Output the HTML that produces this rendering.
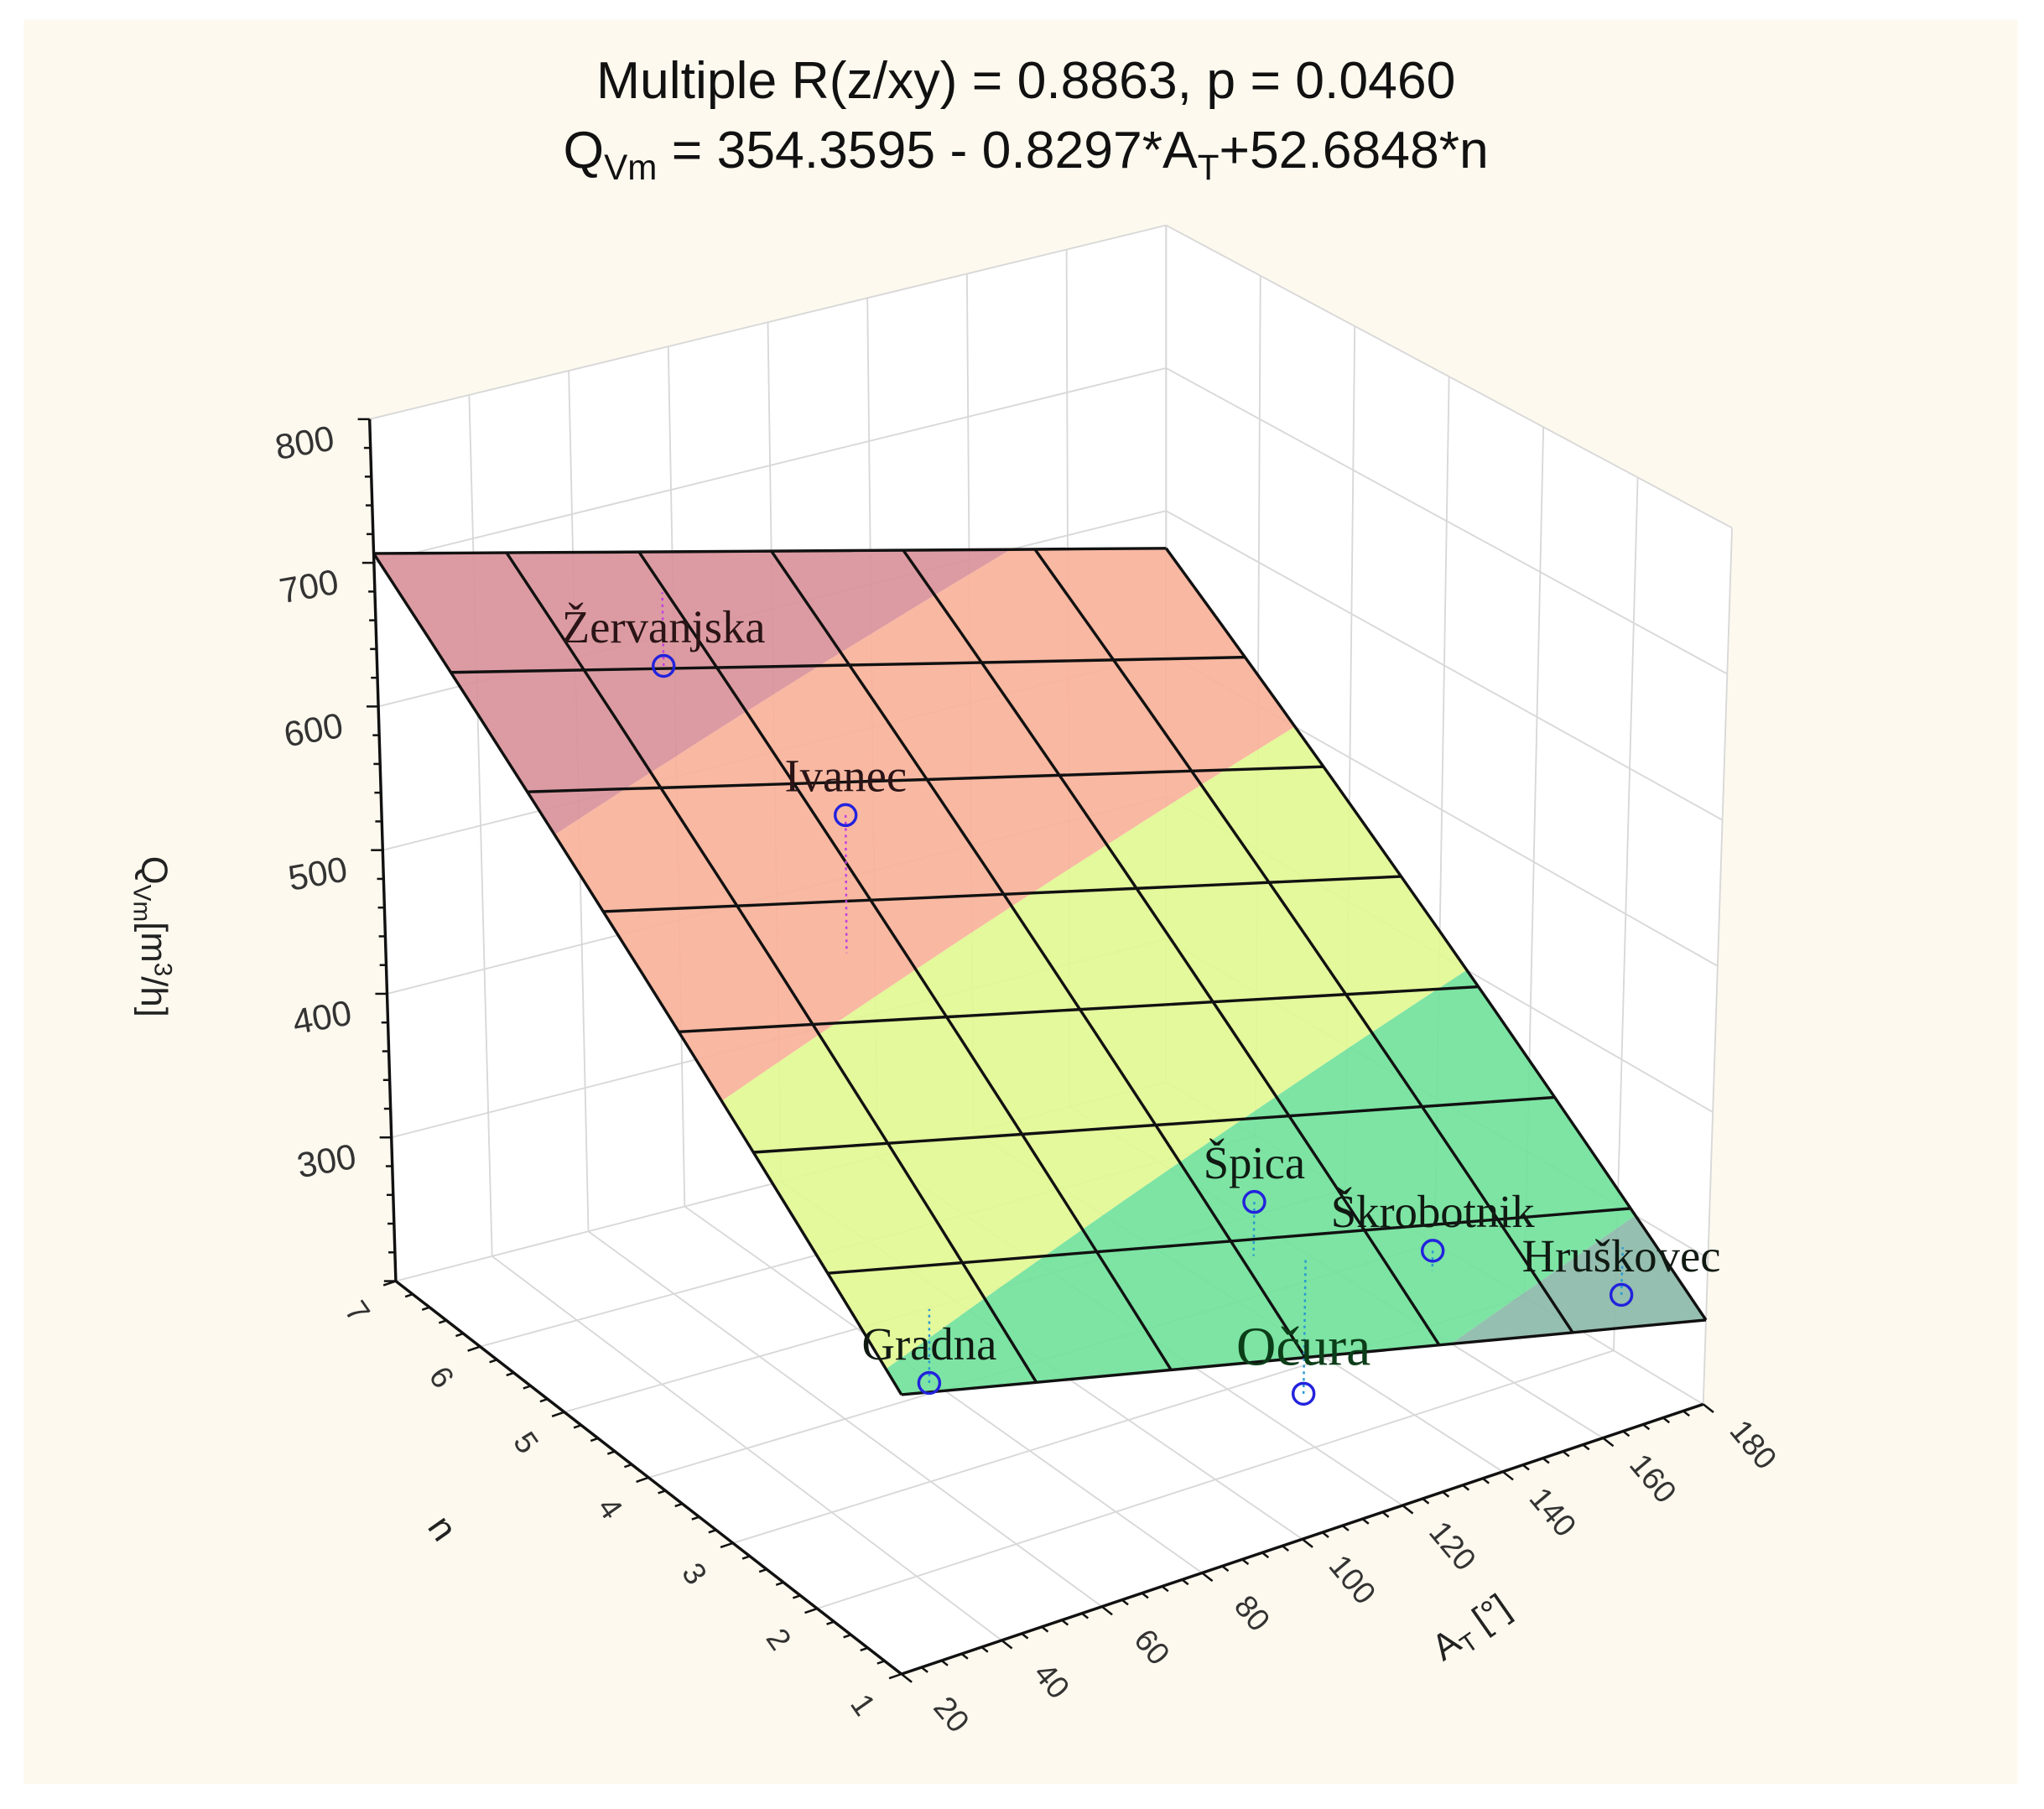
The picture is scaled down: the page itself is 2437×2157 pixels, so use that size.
<!DOCTYPE html>
<html><head><meta charset="utf-8"><style>
html,body{margin:0;padding:0;background:#fff;}
svg{display:block;}
text{font-family:"Liberation Sans",sans-serif;}
text.serif{font-family:"Liberation Serif",serif;}
</style></head><body>
<svg id="chart" width="2437" height="2157" viewBox="0 0 1560 1381" xmlns="http://www.w3.org/2000/svg">
<rect x="18" y="15" width="1522" height="1347" fill="#fdf9ee"/>
<text x="783" y="75" font-size="40" text-anchor="middle" fill="#111">Multiple R(z/xy) = 0.8863, p = 0.0460</text>
<text x="783" y="128" font-size="40" text-anchor="middle" fill="#111">Q<tspan font-size="27" dy="9">Vm</tspan><tspan dy="-9"> = 354.3595 - 0.8297*A</tspan><tspan font-size="27" dy="9">T</tspan><tspan dy="-9">+52.6848*n</tspan></text>
<g id="walls"></g>
<g id="grid"></g>
<g id="axes"></g>
<g id="surface"></g>
<g id="points"></g>
<g id="labelsAbove"></g>
<text transform="translate(108,715) rotate(90)" font-size="28" text-anchor="middle" fill="#222">Q<tspan font-size="19" dy="6">Vm</tspan><tspan dy="-6">[m</tspan><tspan font-size="19" dy="-10">3</tspan><tspan dy="10">/h]</tspan></text>
<text transform="translate(330,1172) rotate(55)" font-size="28" text-anchor="middle" fill="#222">n</text>
<text transform="translate(1128,1250) rotate(-35)" font-size="28" text-anchor="middle" fill="#222">A<tspan font-size="19" dy="6">T</tspan><tspan dy="-6"> [°]</tspan></text>
</svg>
<script>
const aTicks=[20,40,60,80,100,120,140,160,180];
const nTicks=[1,2,3,4,5,6,7];
const qTicks=[300,400,500,600,700,800];
const pointNames=["Žervanjska","Ivanec","Špica","Očura","Škrobotnik","Hruškovec","Gradna"];
const pointA=[72.5,62,102.5,112,134.5,173.5,35];
const pointN=[6.7,4.06,1.74,1.69,1.53,1.58,1.56];
const pointQ=[596,612,398,258,337,261,357];
const bandLimits=[0,300,400,500,600,2000];
const bandColors=["#8cbaa9","#72e29c","#e2f794","#f9b29a","#d9929a"];
const coef=[354.3595,-0.8297,52.6848];
const A0=20,A1=180,N0=1,N1=7,Q0=200,Q1=800;
const F00=[688,1278],F10=[1300,1072],F01=[302,978],F11=[890,826];
const T00=[688,606],T10=[1322,403],T01=[282,320],T11=[890,172];
function lerp(p,q,t){return [p[0]+(q[0]-p[0])*t,p[1]+(q[1]-p[1])*t];}
function proj(a,n,q){
  const u=(a-A0)/(A1-A0),v=(n-N0)/(N1-N0),w=(q-Q0)/(Q1-Q0);
  const f=lerp(lerp(F00,F10,u),lerp(F01,F11,u),v);
  const t=lerp(lerp(T00,T10,u),lerp(T01,T11,u),v);
  return lerp(f,t,w);
}
function surfQ(a,n){return coef[0]+coef[1]*a+coef[2]*n;}
const NS="http://www.w3.org/2000/svg";
function mk(tag,parent,attrs){const e=document.createElementNS(NS,tag);for(const k in attrs)e.setAttribute(k,attrs[k]);document.getElementById(parent).appendChild(e);return e;}
function line3(parent,p,q,stroke,sw,name){
  const a=proj(...p),b=proj(...q);
  const e=mk('line',parent,{x1:a[0],y1:a[1],x2:b[0],y2:b[1],stroke:stroke,'stroke-width':sw});
  
  
  return e;
}
function polyPts(pts){return pts.map(p=>p[0].toFixed(1)+','+p[1].toFixed(1)).join(' ');}
const lw=mk('polygon','walls',{points:polyPts([proj(A0,N1,Q0),proj(A1,N1,Q0),proj(A1,N1,Q1),proj(A0,N1,Q1)]),fill:'#fff'});


const rw=mk('polygon','walls',{points:polyPts([proj(A1,N1,Q0),proj(A1,N0,Q0),proj(A1,N0,Q1),proj(A1,N1,Q1)]),fill:'#fff'});


const fl=mk('polygon','walls',{points:polyPts([proj(A0,N0,Q0),proj(A1,N0,Q0),proj(A1,N1,Q0),proj(A0,N1,Q0)]),fill:'#fff'});


const G='#d8d8d8';
aTicks.forEach(a=>{
  line3('grid',[a,N1,Q0],[a,N1,Q1],G,1.2,'wall-grid-a');
  line3('grid',[a,N0,Q0],[a,N1,Q0],G,1.2,'floor-grid-a');
});
nTicks.forEach(n=>{
  line3('grid',[A1,n,Q0],[A1,n,Q1],G,1.2,'wall-grid-n');
  line3('grid',[A0,n,Q0],[A1,n,Q0],G,1.2,'floor-grid-n');
});
qTicks.forEach(q=>{
  line3('grid',[A0,N1,q],[A1,N1,q],G,1.2,'wall-grid-q');
  line3('grid',[A1,N1,q],[A1,N0,q],G,1.2,'wall-grid-q');
});
line3('axes',[A0,N1,Q0],[A0,N1,Q1],'#111',2.2,'y-axis-line');
line3('axes',[A0,N1,Q0],[A0,N0,Q0],'#111',2.2,'n-axis-line');
line3('axes',[A0,N0,Q0],[A1,N0,Q0],'#111',2.2,'x-axis-line');
function tick(p,dir,len,name){
  const e=mk('line','axes',{x1:p[0],y1:p[1],x2:p[0]+dir[0]*len,y2:p[1]+dir[1]*len,stroke:'#111','stroke-width':1.6});
  
  
}
function unit(v){const l=Math.hypot(v[0],v[1]);return [v[0]/l,v[1]/l];}
for(let q=Q0;q<=Q1;q+=20){const major=q%100===0;tick(proj(A0,N1,q),[-1,0],major?9:5,'y-axis-tick');}
const nDir=unit([-76,26]);
for(let i=0;i<=30;i++){const n=N0+i*0.2;tick(proj(A0,n,Q0),nDir,i%5===0?10:6,'n-axis-tick');}
const aDir=unit([64,50]);
for(let a=A0;a<=A1;a+=4){tick(proj(a,N0,Q0),aDir,(a-A0)%20===0?10:6,'x-axis-tick');}
function txt(parent,x,y,s,size,rot,name,fill,cls){
  const e=mk('text',parent,{transform:`translate(${x.toFixed(1)},${y.toFixed(1)}) rotate(${rot})`,'font-size':size,'text-anchor':'middle',fill:fill||'#333'});
  if(cls)e.setAttribute('class',cls);
  e.textContent=s;
  
  
  return e;
}
qTicks.forEach(q=>{const p=proj(A0,N1,q);txt('axes',p[0]-48,p[1]+27,String(q),27,-10,'y-tick-label');});
nTicks.forEach(n=>{const p=proj(A0,n,Q0);txt('axes',p[0]-36,p[1]+28,String(n),24,55,'n-tick-label');});
aTicks.forEach(a=>{const p=proj(a,N0,Q0);txt('axes',p[0]+32,p[1]+36,String(a),24,50,'x-tick-label');});
function clip(poly,fn){
  const out=[];
  for(let i=0;i<poly.length;i++){
    const a=poly[i],b=poly[(i+1)%poly.length],fa=fn(a),fb=fn(b);
    if(fa>=0)out.push(a);
    if((fa>=0)!==(fb>=0)){const t=fa/(fa-fb);out.push([a[0]+(b[0]-a[0])*t,a[1]+(b[1]-a[1])*t]);}
  }
  return out;
}
function projPoly(poly){
  const pts=[];
  for(let i=0;i<poly.length;i++){
    const a=poly[i],b=poly[(i+1)%poly.length];
    for(let k=0;k<12;k++){const t=k/12;const A=a[0]+(b[0]-a[0])*t,N=a[1]+(b[1]-a[1])*t;pts.push(proj(A,N,surfQ(A,N)));}
  }
  return pts;
}
const rect=[[A0,N0],[A1,N0],[A1,N1],[A0,N1]];
bandColors.forEach((c,i)=>{
  let p=clip(rect,x=>surfQ(x[0],x[1])-bandLimits[i]);
  p=clip(p,x=>bandLimits[i+1]-surfQ(x[0],x[1]));
  if(p.length<3)return;
  const e=mk('polygon','surface',{points:polyPts(projPoly(p)),fill:c,'fill-opacity':0.92});
  
  
});
function sline(a1,n1,a2,n2,sw,name){
  const pts=[];for(let k=0;k<=10;k++){const t=k/10;const A=a1+(a2-a1)*t,N=n1+(n2-n1)*t;pts.push(proj(A,N,surfQ(A,N)));}
  const e=mk('polyline','surface',{points:polyPts(pts),fill:'none',stroke:'#111','stroke-width':sw});
  
  
}
for(let i=0;i<=6;i++){const a=A0+(A1-A0)*i/6;sline(a,N0,a,N1,2.2,'surface-grid-a');}
for(let j=0;j<=7;j++){const n=N0+(N1-N0)*j/7;sline(A0,n,A1,n,2.2,'surface-grid-n');}
pointNames.forEach((nm,i)=>{
  const p=proj(pointA[i],pointN[i],pointQ[i]);
  const s=proj(pointA[i],pointN[i],surfQ(pointA[i],pointN[i]));
  const d=mk('line','points',{x1:p[0],y1:p[1],x2:s[0],y2:s[1],stroke:pointQ[i]>400?'#c040e0':'#2a9ad0','stroke-width':1.6,'stroke-dasharray':'2 3'});
  
  
  const c=mk('circle','points',{cx:p[0],cy:p[1],r:8,fill:'none',stroke:'#2222dd','stroke-width':2.2});
  
  
  const big=nm==="Očura";
  txt('labelsAbove',p[0],p[1]-(big?22:18),nm,big?42:35,0,'point-label',big?'#0b3d18':(i<2?'#2a1416':'#101a12'),'serif');
});
</script>
</body></html>
